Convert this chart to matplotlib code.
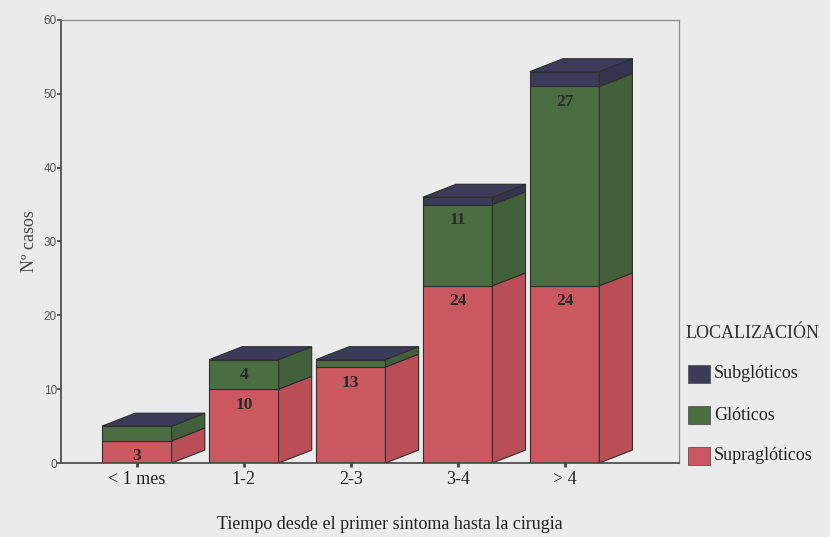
import matplotlib.pyplot as plt
from matplotlib.patches import Polygon, Rectangle

# Datos
categorias = ["< 1 mes", "1-2", "2-3", "3-4", "> 4"]
supragloticos = [3, 10, 13, 24, 24]
gloticos = [2, 4, 1, 11, 27]
subgloticos = [0, 0, 0, 1, 2]

series = [("Supraglóticos", supragloticos, "#cb5860", "#ba4e57"),
          ("Glóticos", gloticos, "#4b6d42", "#42603a"),
          ("Subglóticos", subgloticos, "#3c3c5a", "#34344f")]

bg = "#ebebeb"
fig = plt.figure(figsize=(8.3, 5.37), dpi=100, facecolor=bg)
ax = fig.add_axes([0.0735, 0.1378, 0.7445, 0.825], facecolor=bg)

w = 0.65      # ancho de la cara frontal
dx = 0.31     # profundidad en x
dy = 1.75     # profundidad en y
edge = "#2e2e2e"

for i, cat in enumerate(categorias):
    x0 = i - w / 2
    x1 = i + w / 2
    bottom = 0
    for name, vals, col, side in series:
        v = vals[i]
        if v <= 0:
            continue
        ax.add_patch(Rectangle((x0, bottom), w, v, facecolor=col, edgecolor=edge, lw=0.8))
        ax.add_patch(Polygon([(x1, bottom), (x1 + dx, bottom + dy), (x1 + dx, bottom + v + dy),
                              (x1, bottom + v)], closed=True, facecolor=side, edgecolor=edge, lw=0.8))
        if v >= 3:
            ax.text(i, bottom + v - 2.1, str(v), ha="center", va="center", fontsize=12.5,
                    family="Liberation Serif", fontweight="bold", color="#2a2a2a")
        bottom += v
    # cara superior
    ax.add_patch(Polygon([(x0, bottom), (x0 + dx, bottom + dy), (x1 + dx, bottom + dy), (x1, bottom)],
                         closed=True, facecolor=series[2][2], edgecolor=edge, lw=0.8))

ax.set_xlim(-0.71, 5.07)
ax.set_ylim(0, 60)
ax.set_yticks(range(0, 61, 10))
ax.set_xticks(range(len(categorias)))
ax.set_xticklabels(categorias, family="Liberation Serif", fontsize=13, color="#222222")
ax.tick_params(axis="y", labelsize=8.5, labelcolor="#555555", length=3, width=1.2, pad=0, color="#444444")
ax.tick_params(axis="x", length=3, width=2, pad=3, color="#444444")
for lab in ax.get_yticklabels():
    lab.set_family("Liberation Sans")
for s in ["left", "bottom"]:
    ax.spines[s].set_color("#444444")
    ax.spines[s].set_linewidth(1.2)
for s in ["top", "right"]:
    ax.spines[s].set_color("#8a8a8a")
    ax.spines[s].set_linewidth(0.9)

ax.set_ylabel("Nº casos", family="Liberation Serif", fontsize=13, color="#444444", labelpad=4)
ax.set_xlabel("Tiempo desde el primer sintoma hasta la cirugia", family="Liberation Serif",
              fontsize=13, color="#222222", va="center")
ax.xaxis.set_label_coords(0.532, -0.138)

# Leyenda manual
fig.text(686 / 830, 1 - 333 / 537, "LOCALIZACIÓN", family="Liberation Serif", fontsize=13,
         color="#333333", va="center", ha="left")
for (name, vals, col, side), yc in zip(series[::-1], [374, 415, 456]):
    fig.patches.append(Rectangle((688 / 830, 1 - (yc + 9) / 537), 22 / 830, 18 / 537,
                                 transform=fig.transFigure, facecolor=col, edgecolor="#555555", lw=0.6))
    fig.text(714 / 830, 1 - yc / 537, name, family="Liberation Serif", fontsize=13,
             color="#222222", va="center", ha="left")

fig.savefig("out.png", dpi=100, facecolor=bg)
